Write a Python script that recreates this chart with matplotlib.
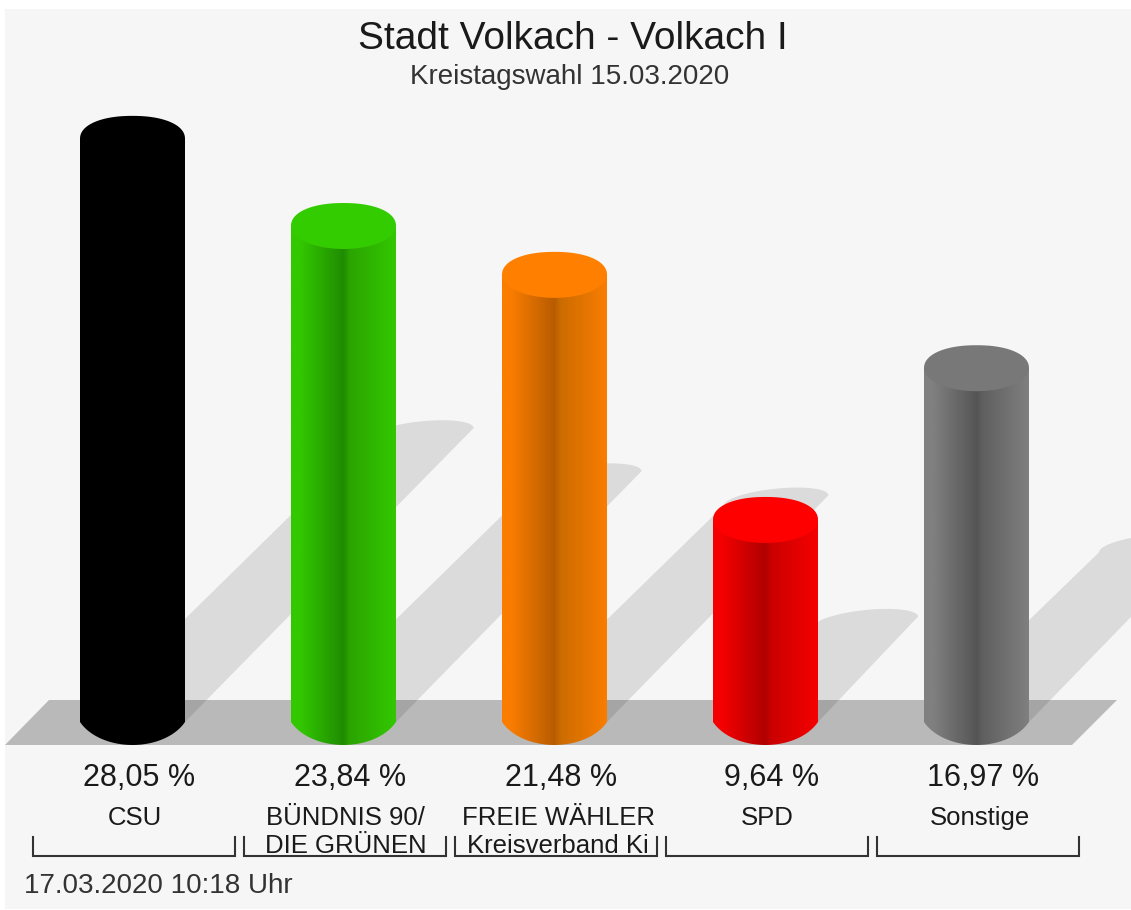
import numpy as np
import matplotlib
matplotlib.use("Agg")
import matplotlib.pyplot as plt
from matplotlib.colors import LinearSegmentedColormap
from matplotlib.patches import Polygon, PathPatch, Rectangle
from matplotlib.path import Path

plt.rcParams['font.family'] = ['Liberation Sans', 'DejaVu Sans']

parties = ["CSU", "BÜNDNIS 90/\nDIE GRÜNEN", "FREIE WÄHLER\nKreisverband Ki", "SPD", "Sonstige"]
values = [28.05, 23.84, 21.48, 9.64, 16.97]
value_labels = ["28,05 %", "23,84 %", "21,48 %", "9,64 %", "16,97 %"]
top_colors = ["#000000", "#33cc00", "#ff8000", "#ff0000", "#787878"]
edge_colors = ["#000000", "#33c800", "#fa7d00", "#f50000", "#808080"]
dark_colors = ["#000000", "#1f8c00", "#b85c00", "#b00000", "#555555"]
right_colors = ["#000000", "#2ba400", "#cc6c00", "#cc0000", "#606060"]
name_offsets = [0.01, 0.01, 0.017, 0.01, 0.014]

W, H = 1131, 910
# pixels per unit on each axis
SLOT = 211.0
PCT = 20.7
x0_px = 132.5
y0_px = 719.5

fig = plt.figure(figsize=(W / 100, H / 100), dpi=100, facecolor="white")
ax = fig.add_axes([0, 0, 1, 1])
ax.set_xlim(-x0_px / SLOT, (W - x0_px) / SLOT)
ax.set_ylim((y0_px - H) / PCT, y0_px / PCT)
ax.axis("off")


def px(x, y):
    # picture pixels to data units, for the furniture around the bars
    return (x - x0_px) / SLOT, (y0_px - y) / PCT


rx = 52.5 / SLOT
ry = 23.0 / PCT
base = px(0, 722)[1]

ax.add_patch(Rectangle(px(5, 909), 1126 / SLOT, 900 / PCT, fc="#f6f6f6", ec="none", zorder=0))

# floor
floor = [px(5, 745), px(49, 700), px(1117, 700), px(1072, 745)]
ax.add_patch(Polygon(floor, fc="#b9b9b9", ec="none", zorder=1))

t = np.linspace(0, np.pi, 60)
for i, v in enumerate(values):
    # shadow: the bar leaned over 45 degrees to the right, half as long
    length = 0.495 * (v - base) * PCT
    sx = i + length / SLOT
    sy = base + length / PCT
    lean = 5.3 / PCT * np.cos(t)
    curve = np.column_stack([sx + rx * np.cos(t), sy + 12.0 / PCT * np.sin(t) + lean])
    outline = np.vstack([[[i + rx, base]], curve, [[i - rx, base]]])
    ax.add_patch(Polygon(outline, fc="black", alpha=0.105, ec="none", zorder=2))

for i, v in enumerate(values):
    # body with a flat arc at the bottom that meets the sides in a corner
    low = np.linspace(np.pi + 0.43, 2 * np.pi - 0.43, 60)
    body = np.vstack([
        [[i - rx, v]],
        np.column_stack([i + 1.1 * rx * np.cos(low), px(0, 705.5)[1] + 39.5 / PCT * np.sin(low)]),
        [[i + rx, v]],
    ])
    cmap = LinearSegmentedColormap.from_list("c%d" % i, [
        (0.0, edge_colors[i]),
        (0.08, edge_colors[i]),
        (0.5, dark_colors[i]),
        (0.56, right_colors[i]),
        (1.0, edge_colors[i]),
    ])
    im = ax.imshow(np.linspace(0, 1, 256).reshape(1, -1), cmap=cmap, aspect="auto",
                   extent=(i - rx, i + rx, base - 2 * ry, v), zorder=3, interpolation="bilinear")
    clip = PathPatch(Path(body), transform=ax.transData, fc="none", ec="none")
    ax.add_patch(clip)
    im.set_clip_path(clip)

    # top face, a bit fuller than an ellipse on its upper side
    a = np.linspace(0, np.pi, 60)
    upper = np.column_stack([i + rx * np.sign(np.cos(a)) * np.abs(np.cos(a)) ** 0.92,
                             v + ry * np.sin(a) ** 0.92])
    lower = np.column_stack([i + rx * np.cos(a + np.pi), v + ry * np.sin(a + np.pi)])
    ax.add_patch(Polygon(np.vstack([upper, lower]), fc=top_colors[i], ec="none", zorder=4))

    ax.text(i + 0.03, px(0, 778)[1], value_labels[i], ha="center", va="center",
            fontsize=22, color="#1a1a1a", zorder=5)

    names = parties[i].split("\n")
    ax.text(i + name_offsets[i], px(0, 818)[1], names[0], ha="center", va="center",
            fontsize=18.5, color="#1a1a1a", zorder=5)
    if len(names) > 1:
        ax.text(i + name_offsets[i], px(0, 846)[1], names[1], ha="center", va="center",
                fontsize=18.5, color="#1a1a1a", zorder=6)

    # bracket under each name
    left = i + (33 - x0_px) / SLOT
    right = i + (235 - x0_px) / SLOT
    y_top, y_low = px(0, 837)[1], px(0, 856)[1]
    ax.plot([left, left, right, right], [y_top, y_low, y_low, y_top],
            color="#333333", lw=1.5, solid_joinstyle="miter", zorder=5)

x, y = px(573, 39)
ax.text(x, y, "Stadt Volkach - Volkach I", ha="center", va="center", fontsize=28, color="#1a1a1a")
x, y = px(570, 77)
ax.text(x, y, "Kreistagswahl 15.03.2020", ha="center", va="center", fontsize=20, color="#333333")
x, y = px(24, 886)
ax.text(x, y, "17.03.2020 10:18 Uhr", ha="left", va="center", fontsize=20, color="#333333")

fig.savefig("out.png", dpi=100, facecolor="white")
